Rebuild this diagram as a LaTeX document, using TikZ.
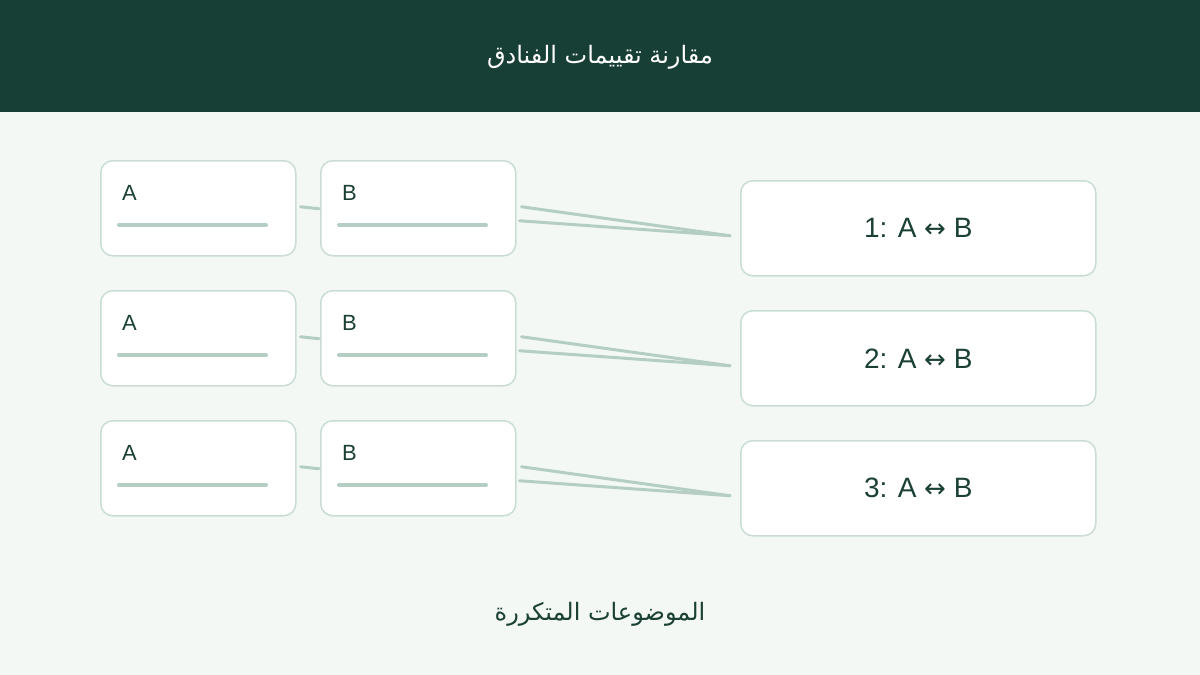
\documentclass[tikz,border=0pt]{standalone}
\usepackage{fontspec}
\setmainfont{Liberation Sans}
\newfontfamily\arabicfont[Script=Arabic]{DejaVu Sans}
\newfontfamily\arrowfont{DejaVu Sans}
\TeXXeTstate=1
\definecolor{hdr}{HTML}{173F35}
\definecolor{bgc}{HTML}{F3F8F5}
\definecolor{bord}{HTML}{C9DDD4}
\definecolor{linec}{HTML}{B5CEC3}
\definecolor{txt}{HTML}{1B4034}
\begin{document}
\begin{tikzpicture}[x=1pt,y=-1pt,
  card/.style={draw=bord,fill=white,line width=1.5pt,rounded corners=12pt,minimum width=195pt,minimum height=95pt,anchor=north west,inner sep=0pt},
  wide/.style={draw=bord,fill=white,line width=1.5pt,rounded corners=12pt,minimum width=355pt,minimum height=95pt,anchor=north west,inner sep=0pt,text=txt,font=\fontsize{28}{32}\selectfont},
  bar/.style={draw=linec,line width=4pt,line cap=round},
  conn/.style={draw=linec,line width=3pt,line cap=round},
  lbl/.style={text=txt,font=\fontsize{22}{24}\selectfont,anchor=base west,inner sep=0pt}]
\useasboundingbox (0,0) rectangle (1200,675);
\fill[bgc] (0,0) rectangle (1200,675);
\fill[hdr] (0,0) rectangle (1200,112);
\node[text=white,font=\arabicfont\fontsize{24}{28}\selectfont] (title) at (600,57) {\beginR مقارنة تقييمات الفنادق\endR};
\node[text=txt,font=\arabicfont\fontsize{24}{28}\selectfont] (foot) at (600,614) {\beginR الموضوعات المتكررة\endR};
\foreach \i/\y/\ry in {1/160/180,2/290/310,3/420/440}{
  \node[card] (a\i) at (100,\y) {};
  \node[card] (b\i) at (320,\y) {};
  \node[wide] (r\i) at (740,\ry) {\i: A {\arrowfont\fontsize{26}{30}\selectfont ↔} B};
  \node[lbl] (la\i) at ([xshift=22pt,yshift=-40pt]a\i.north west) {A};
  \node[lbl] (lb\i) at ([xshift=22pt,yshift=-40pt]b\i.north west) {B};
  \draw[bar] ([xshift=19pt,yshift=-65pt]a\i.north west) -- ([xshift=166pt,yshift=-65pt]a\i.north west);
  \draw[bar] ([xshift=19pt,yshift=-65pt]b\i.north west) -- ([xshift=166pt,yshift=-65pt]b\i.north west);
  \draw[conn] ([xshift=4pt,yshift=1.5pt]a\i.east) -- ([xshift=-1pt,yshift=-0.5pt]b\i.west);
  \draw[conn] ([xshift=5pt,yshift=1.5pt]b\i.east) -- ([xshift=-10pt,yshift=-7.5pt]r\i.west);
  \draw[conn] ([xshift=3pt,yshift=-12.5pt]b\i.east) -- ([xshift=-10pt,yshift=-7.5pt]r\i.west);
}
\end{tikzpicture}
\end{document}
